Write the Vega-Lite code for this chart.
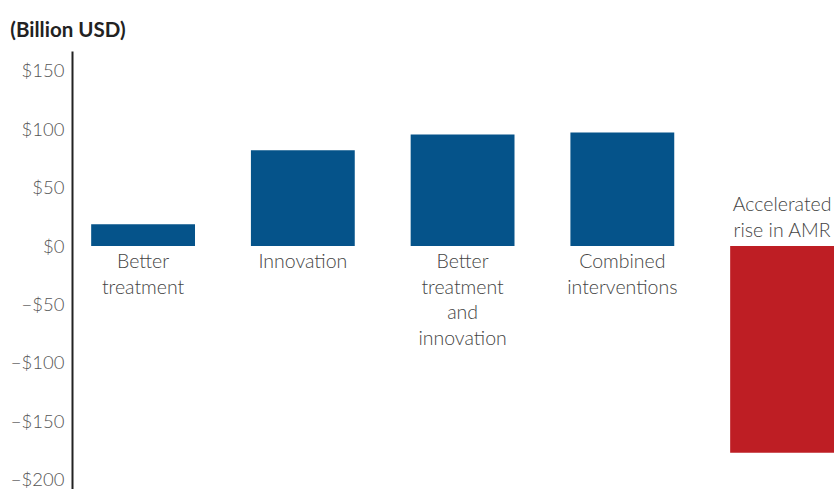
{
  "$schema": "https://vega.github.io/schema/vega-lite/v6.json",
  "description": "Economic impact of AMR scenarios, billion USD",
  "autosize": {"type": "none"},
  "padding": {"left": 72, "top": 51, "right": 0, "bottom": 0},
  "width": 762,
  "height": 438,
  "title": {
    "text": "(Billion USD)",
    "anchor": "start",
    "frame": "bounds",
    "font": "Lato",
    "fontSize": 20.5,
    "fontWeight": "bold",
    "color": "#222222",
    "offset": 10
  },
  "data": {
    "values": [
      {"scenario": "Better treatment", "label": "Better\ntreatment", "value": 18.6},
      {"scenario": "Innovation", "label": "Innovation", "value": 82},
      {"scenario": "Better treatment and innovation", "label": "Better\ntreatment\nand\ninnovation", "value": 95.6},
      {"scenario": "Combined interventions", "label": "Combined\ninterventions", "value": 97.3},
      {"scenario": "Accelerated rise in AMR", "label": "Accelerated\nrise in AMR", "value": -177}
    ]
  },
  "encoding": {
    "x": {
      "field": "scenario",
      "type": "nominal",
      "sort": null,
      "axis": null,
      "scale": {"paddingInner": 0.35, "paddingOuter": 0.06, "align": 1}
    }
  },
  "layer": [
    {
      "mark": {"type": "bar"},
      "encoding": {
        "y": {
          "field": "value",
          "type": "quantitative",
          "scale": {"domain": [-208, 167], "nice": false, "zero": false},
          "axis": {
            "title": null,
            "values": [-200, -150, -100, -50, 0, 50, 100, 150],
            "labelExpr": "datum.value < 0 ? '\u2212$' + abs(datum.value) : '$' + datum.value",
            "labelFont": "Lato",
            "labelFontWeight": 300,
            "labelFontSize": 18.5,
            "labelColor": "#555555",
            "labelPadding": 8,
            "ticks": false,
            "grid": false,
            "domainColor": "#222222",
            "domainWidth": 2
          }
        },
        "color": {
          "condition": {"test": "datum.value < 0", "value": "#be1e24"},
          "value": "#05538a"
        }
      }
    },
    {
      "mark": {"type": "rule", "color": "#333333", "strokeWidth": 2},
      "encoding": {"y": {"datum": 0}}
    },
    {
      "transform": [{"filter": "datum.value >= 0"}],
      "mark": {
        "type": "text",
        "baseline": "top",
        "align": "center",
        "dy": 7,
        "lineBreak": "\n",
        "lineHeight": 25.5,
        "font": "Lato",
        "fontWeight": 300,
        "fontSize": 19.5,
        "fill": "#444444"
      },
      "encoding": {
        "y": {"datum": 0},
        "text": {"field": "label"}
      }
    },
    {
      "transform": [{"filter": "datum.value < 0"}],
      "mark": {
        "type": "text",
        "baseline": "bottom",
        "align": "center",
        "dy": -31,
        "lineBreak": "\n",
        "lineHeight": 25.5,
        "font": "Lato",
        "fontWeight": 300,
        "fontSize": 19.5,
        "fill": "#444444"
      },
      "encoding": {
        "y": {"datum": 0},
        "text": {"field": "label"}
      }
    }
  ],
  "config": {
    "view": {"stroke": null}
  }
}
